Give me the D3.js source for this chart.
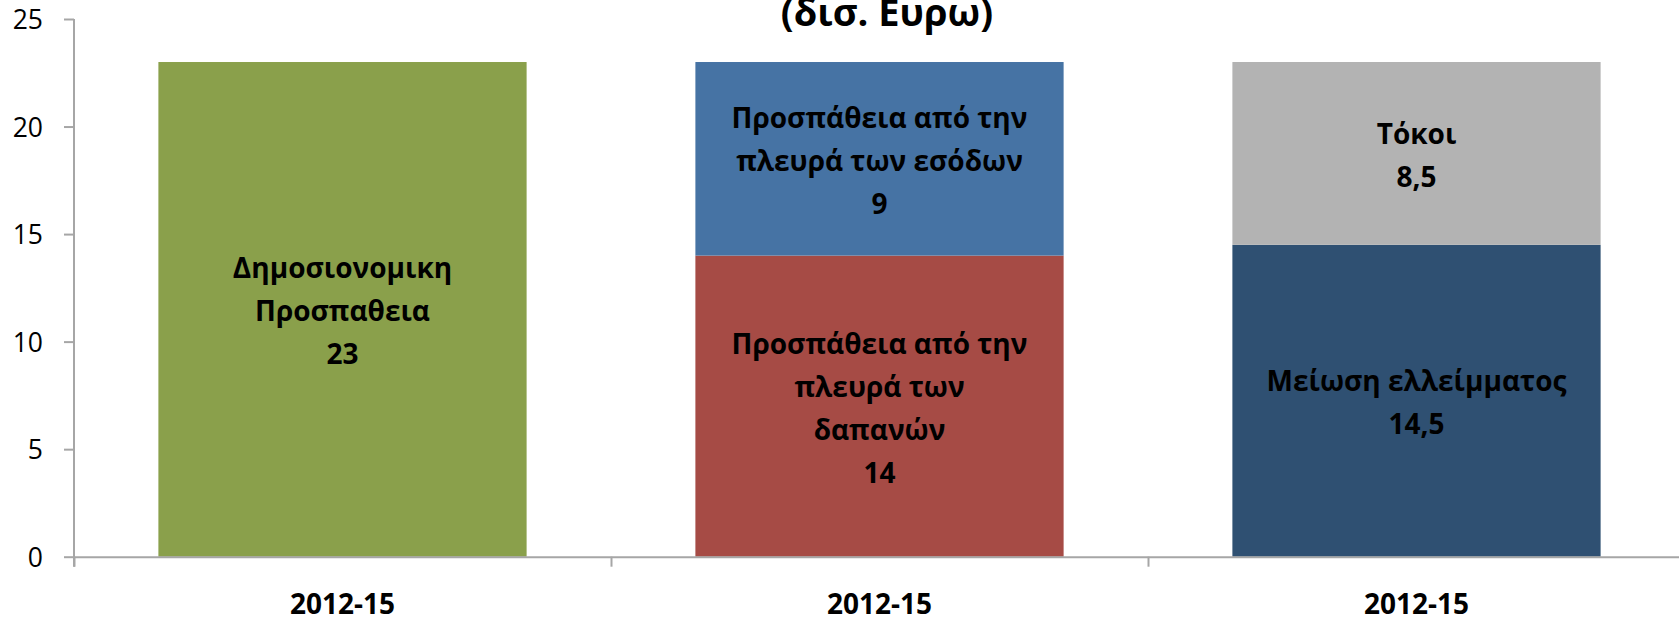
<!DOCTYPE html>
<html>
<head>
<meta charset="utf-8">
<script src="https://cdn.jsdelivr.net/npm/d3@7"></script>
<style>
  html, body { margin: 0; padding: 0; background: #fff; overflow: hidden; }
  svg { display: block; }
  text { font-family: "Open Sans", sans-serif; }
</style>
</head>
<body>
<svg id="chart" width="1679" height="622"></svg>
<script>
// ---- data ----
const categories = ["2012-15", "2012-15", "2012-15"];
const seriesKeys = ["bottom", "top"];
const bottomValues = [23, 14, 14.5];
const topValues = [0, 9, 8.5];
const bottomLabels = [
  ["Δημοσιονομικη", "Προσπαθεια", "23"],
  ["Προσπάθεια από την", "πλευρά των", "δαπανών", "14"],
  ["Μείωση ελλείμματος", "14,5"]
];
const topLabels = [
  [],
  ["Προσπάθεια από την", "πλευρά των εσόδων", "9"],
  ["Τόκοι", "8,5"]
];
const bottomColors = ["#8aa04b", "#a64b45", "#2f5072"];
const topColors = ["#8aa04b", "#4673a4", "#b3b3b3"];
const yTicks = [0, 5, 10, 15, 20, 25];
const titleText = "(δισ. Ευρω)";

// ---- layout ----
const svg = d3.select("#chart");
const x0 = 74, step = 537, y0 = 556.7, yTop = 19;
const rows = categories.map((c, i) => ({ idx: i, bottom: bottomValues[i], top: topValues[i] }));

const x = d3.scaleBand()
  .domain(categories.map((c, i) => i))
  .range([x0, x0 + step * categories.length])
  .paddingInner(0.3143)
  .paddingOuter(0.3143 / 2);
const xEdge = d3.scaleLinear().domain([0, categories.length]).range([x0, x0 + step * categories.length]);
const y = d3.scaleLinear().domain([0, 25]).range([y0, yTop]);

const stacked = d3.stack().keys(seriesKeys)(rows);

// bars
stacked.forEach(layer => {
  const colors = layer.key === "bottom" ? bottomColors : topColors;
  svg.append("g").selectAll("rect")
    .data(layer.filter(d => d[1] - d[0] > 0))
    .join("rect")
    .attr("x", d => x(d.data.idx))
    .attr("width", x.bandwidth())
    .attr("y", d => y(d[1]))
    .attr("height", d => y(d[0]) - y(d[1]))
    .attr("fill", d => colors[d.data.idx]);
});

// labels
const lineH = 43;
stacked.forEach(layer => {
  const labels = layer.key === "bottom" ? bottomLabels : topLabels;
  layer.forEach(d => {
    const lines = labels[d.data.idx];
    if (!lines.length || d[1] - d[0] <= 0) return;
    const cy = y((d[0] + d[1]) / 2);
    const cx = x(d.data.idx) + x.bandwidth() / 2;
    const t = svg.append("text")
      .attr("text-anchor", "middle")
      .attr("font-weight", "bold")
      .attr("font-size", 28)
      .attr("fill", "#000");
    const n = lines.length;
    lines.forEach((s, k) => {
      t.append("tspan")
        .attr("x", cx)
        .attr("y", cy + (k - (n - 1) / 2) * lineH + 12)
        .text(s);
    });
  });
});

// y axis
const yAxis = svg.append("g")
  .attr("transform", `translate(${x0},0)`)
  .call(d3.axisLeft(y).tickValues(yTicks).tickSize(10).tickSizeOuter(0).tickPadding(21).tickFormat(d3.format("d")));
yAxis.selectAll("text").attr("font-size", 26.5).attr("fill", "#000").attr("font-family", "Open Sans, sans-serif").attr("dy", "0.36em");
yAxis.selectAll("line").attr("stroke", "#a6a6a6").attr("stroke-width", 2);
yAxis.select(".domain").attr("stroke", "#a6a6a6").attr("stroke-width", 2).attr("d", `M0,${yTop}V${y0 + 10}`);

// x axis (boundaries)
const xAxis = svg.append("g")
  .attr("transform", `translate(0,${y0})`)
  .call(d3.axisBottom(xEdge).tickValues(d3.range(categories.length + 1)).tickSize(10).tickSizeOuter(0).tickFormat(""));
xAxis.selectAll("line").attr("stroke", "#a6a6a6").attr("stroke-width", 2);
xAxis.select(".domain").attr("stroke", "#a6a6a6").attr("stroke-width", 2);

// category labels
const xLab = svg.append("g")
  .attr("transform", `translate(0,${y0})`)
  .call(d3.axisBottom(x).tickSize(0).tickPadding(0).tickFormat(i => categories[i]));
xLab.select(".domain").remove();
xLab.selectAll("text")
  .attr("font-size", 28).attr("font-weight", "bold").attr("fill", "#000")
  .attr("font-family", "Open Sans, sans-serif")
  .attr("dy", 0).attr("y", 57);

// title (second line of the title, partly above the top edge as in the reference)
svg.append("text")
  .attr("x", 887).attr("y", 26)
  .attr("text-anchor", "middle")
  .attr("font-weight", "bold").attr("font-size", 38)
  .attr("fill", "#000")
  .text(titleText);
</script>
</body>
</html>
